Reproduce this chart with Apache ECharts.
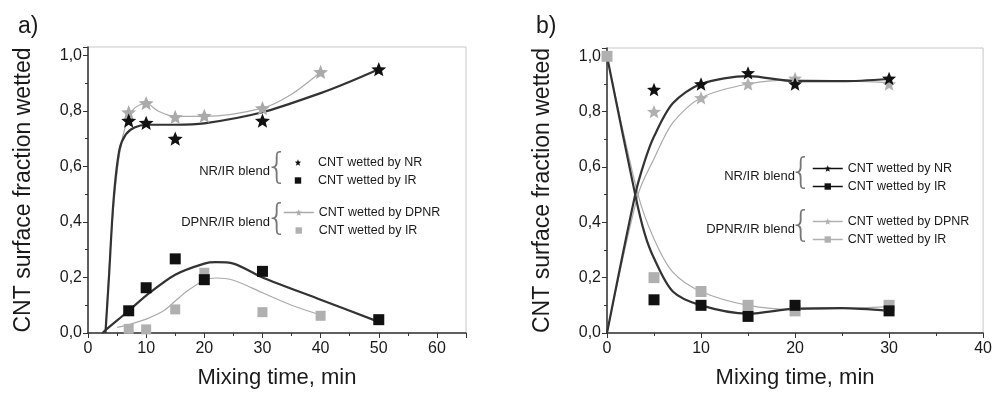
<!DOCTYPE html>
<html>
<head>
<meta charset="utf-8">
<script src="https://cdn.jsdelivr.net/npm/echarts@6/dist/echarts.min.js"></script>
<style>
  html, body { margin: 0; padding: 0; background: #fff; }
  #chart { width: 995px; height: 394px; }
</style>
</head>
<body>
<div id="chart"></div>
<script>
// ---- panel a) measured points ----
const aNR = [[7, 0.765], [10, 0.757], [15, 0.70], [30, 0.765], [50, 0.95]];
const aIR = [[7, 0.08], [10, 0.163], [15, 0.267], [20, 0.192], [30, 0.222], [50, 0.048]];
const aDPNR = [[7, 0.795], [10, 0.828], [15, 0.778], [20, 0.782], [30, 0.81], [40, 0.94]];
const aIR2 = [[7, 0.015], [10, 0.013], [15, 0.085], [20, 0.217], [30, 0.075], [40, 0.062]];
// panel a) fitted curves (read off the figure)
const aNRfit = [[3, 0], [3.6, 0.2], [4.4, 0.48], [5.4, 0.66], [6.5, 0.715], [8, 0.74], [10, 0.75], [15, 0.75], [20, 0.755], [30, 0.795], [40, 0.864], [45, 0.905], [50, 0.95]];
const aDPNRfit = [[3, 0], [4, 0.35], [5, 0.58], [6, 0.71], [7, 0.775], [8, 0.81], [10, 0.828], [12, 0.80], [15, 0.78], [20, 0.78], [30, 0.81], [35, 0.86], [40, 0.94]];
const aIRfit = [[2.5, 0], [3, 0.01], [7, 0.08], [10, 0.135], [15, 0.21], [20, 0.25], [22, 0.255], [25, 0.25], [30, 0.2], [40, 0.12], [50, 0.04]];
const aIR2fit = [[5, 0.02], [7, 0.03], [10, 0.05], [13, 0.08], [15, 0.115], [17, 0.15], [20, 0.19], [22, 0.198], [25, 0.19], [30, 0.145], [35, 0.1], [40, 0.065]];

// ---- panel b) measured points ----
const bNR = [[5, 0.88], [10, 0.90], [15, 0.94], [20, 0.90], [30, 0.92]];
const bIR = [[5, 0.12], [10, 0.10], [15, 0.06], [20, 0.10], [30, 0.08]];
const bDPNR = [[5, 0.80], [10, 0.85], [15, 0.90], [20, 0.92], [30, 0.90]];
const bIR2 = [[0, 1.0], [5, 0.20], [10, 0.15], [15, 0.10], [20, 0.08], [30, 0.10]];
// panel b) fitted curves
const bNRfit = [[0, 0], [3, 0.5], [4, 0.62], [5, 0.71], [7, 0.83], [10, 0.90], [15, 0.928], [20, 0.91], [25, 0.91], [30, 0.918]];
const bIRfit = [[0, 1.0], [3, 0.5], [4, 0.36], [5, 0.27], [7, 0.15], [10, 0.10], [15, 0.07], [20, 0.088], [25, 0.09], [30, 0.08]];
const bDPNRfit = [[0, 0], [3.3, 0.5], [5, 0.63], [7, 0.76], [10, 0.85], [15, 0.90], [20, 0.915], [30, 0.905]];
const bIR2fit = [[0, 1.0], [3.3, 0.5], [5, 0.34], [7, 0.22], [10, 0.15], [15, 0.10], [20, 0.085], [30, 0.095]];

const labels = {
  aNR: 'CNT wetted by NR', aIR: 'CNT wetted by IR', aDPNR: 'CNT wetted by DPNR', aIR2: 'CNT wetted by IR',
  bNR: 'CNT wetted by NR', bIR: 'CNT wetted by IR', bDPNR: 'CNT wetted by DPNR', bIR2: 'CNT wetted by IR'
};

const FONT = '"Liberation Sans", Arial, sans-serif';
const DARK = '#1a1a1a';
const GRAY = '#aaaaaa';

function starPath() {
  const p = [];
  for (let k = 0; k < 10; k++) {
    const r = k % 2 ? 22 : 50;
    const a = -Math.PI / 2 + k * Math.PI / 5;
    p.push((50 + r * Math.cos(a)).toFixed(1) + ',' + (50 + r * Math.sin(a)).toFixed(1));
  }
  return 'path://M' + p.join('L') + 'Z';
}
const STAR = starPath();

function xAxis(idx, max) {
  return {
    type: 'value', gridIndex: idx, min: 0, max: max, interval: 10,
    name: 'Mixing time, min', nameLocation: 'middle', nameGap: 34,
    nameTextStyle: { fontSize: 22, color: DARK, fontFamily: FONT },
    axisLine: { onZero: false, lineStyle: { color: '#333', width: 1.5 } },
    axisTick: { inside: false, length: 5, lineStyle: { color: '#333' } },
    minorTick: { show: true, splitNumber: 2, length: 3, lineStyle: { color: '#333' } },
    axisLabel: { fontSize: 16, color: DARK, fontFamily: FONT, margin: 8, showMaxLabel: max % 10 === 0 },
    splitLine: { show: false }
  };
}
function yAxis(idx) {
  return {
    type: 'value', gridIndex: idx, min: 0, max: 1.03, interval: 0.2,
    name: 'CNT surface fraction wetted', nameLocation: 'middle', nameGap: 53,
    nameTextStyle: { fontSize: 23, color: DARK, fontFamily: FONT },
    axisLine: { onZero: false, lineStyle: { color: '#333', width: 1.5 } },
    axisTick: { inside: false, length: 5, lineStyle: { color: '#333' } },
    minorTick: { show: true, splitNumber: 2, length: 3, lineStyle: { color: '#333' } },
    axisLabel: {
      fontSize: 16, color: DARK, fontFamily: FONT, margin: 6, showMaxLabel: false,
      formatter: v => v.toFixed(1).replace('.', ',')
    },
    splitLine: { show: false }
  };
}

function curve(data, idx, color, width) {
  return {
    type: 'line', data: data, xAxisIndex: idx, yAxisIndex: idx,
    smooth: 0.3, showSymbol: false, silent: true,
    lineStyle: { color: color, width: width }, z: 2
  };
}
function marks(name, data, idx, symbol, size, color) {
  return {
    type: 'line', name: name, data: data, xAxisIndex: idx, yAxisIndex: idx,
    symbol: symbol, symbolSize: size, symbolKeepAspect: true, showSymbol: true,
    lineStyle: { width: 0, opacity: 0 },
    itemStyle: { color: color, borderWidth: 0 }, z: 3
  };
}

function legend(names, left, top, withLine) {
  return {
    orient: 'vertical', left: left, top: top, itemWidth: 30, itemHeight: 8, itemGap: 5,
    textStyle: { fontSize: 12.5, color: DARK, fontFamily: FONT },
    formatter: n => labels[n],
    data: names.map((n, i) => ({
      name: n,
      lineStyle: withLine[i] ? { width: 1.5, opacity: 1 } : { width: 0, opacity: 0 }
    }))
  };
}

function groupText(text, x, y) {
  return { type: 'text', style: { text: text, x: x, y: y, textAlign: 'right', textVerticalAlign: 'middle', font: '13px ' + FONT, fill: DARK } };
}
function brace(x, y) {
  return { type: 'text', style: { text: '{', x: x, y: y, textAlign: 'center', textVerticalAlign: 'middle', font: '200 36px "DejaVu Sans", sans-serif', fill: '#777' } };
}

const chart = echarts.init(document.getElementById('chart'));
chart.setOption({
  backgroundColor: '#fff',
  animation: false,
  title: [
    { text: 'a)', left: 13, top: 10, textStyle: { fontSize: 23, fontWeight: 'normal', color: DARK, fontFamily: FONT } },
    { text: 'b)', left: 531, top: 10, textStyle: { fontSize: 23, fontWeight: 'normal', color: DARK, fontFamily: FONT } }
  ],
  grid: [
    { left: 88, top: 47, width: 378, height: 287, show: true, borderColor: '#c8c8c8', borderWidth: 1 },
    { left: 607, top: 48, width: 380, height: 289, show: true, borderColor: '#c8c8c8', borderWidth: 1 }
  ],
  xAxis: [xAxis(0, 65), xAxis(1, 40)],
  yAxis: [yAxis(0), yAxis(1)],
  legend: [
    legend(['aNR', 'aIR'], 278, 151, [false, false]),
    legend(['aDPNR', 'aIR2'], 278, 201, [true, false]),
    legend(['bNR', 'bIR'], 807, 157, [true, true]),
    legend(['bDPNR', 'bIR2'], 807, 210, [true, true])
  ],
  graphic: [
    groupText('NR/IR blend', 270, 171),
    brace(277, 169),
    groupText('DPNR/IR blend', 270, 222),
    brace(277, 220),
    groupText('NR/IR blend', 795, 176),
    brace(801, 174),
    groupText('DPNR/IR blend', 795, 229),
    brace(801, 227)
  ],
  series: [
    curve(aDPNRfit, 0, GRAY, 1.2),
    curve(aIR2fit, 0, GRAY, 1.2),
    curve(aNRfit, 0, '#333', 2.2),
    curve(aIRfit, 0, '#333', 2.2),
    marks('aDPNR', aDPNR, 0, STAR, 15, GRAY),
    marks('aIR2', aIR2, 0, 'rect', 10, '#b0b0b0'),
    marks('aNR', aNR, 0, STAR, 15, '#111'),
    marks('aIR', aIR, 0, 'rect', 11, '#111'),

    curve(bDPNRfit, 1, GRAY, 1.2),
    curve(bIR2fit, 1, GRAY, 1.2),
    curve(bNRfit, 1, '#333', 2.2),
    curve(bIRfit, 1, '#333', 2.2),
    marks('bDPNR', bDPNR, 1, STAR, 14, '#b0b0b0'),
    marks('bIR2', bIR2, 1, 'rect', 11, '#b0b0b0'),
    marks('bNR', bNR, 1, STAR, 14, '#111'),
    marks('bIR', bIR, 1, 'rect', 11, '#111')
  ]
});
</script>
</body>
</html>
